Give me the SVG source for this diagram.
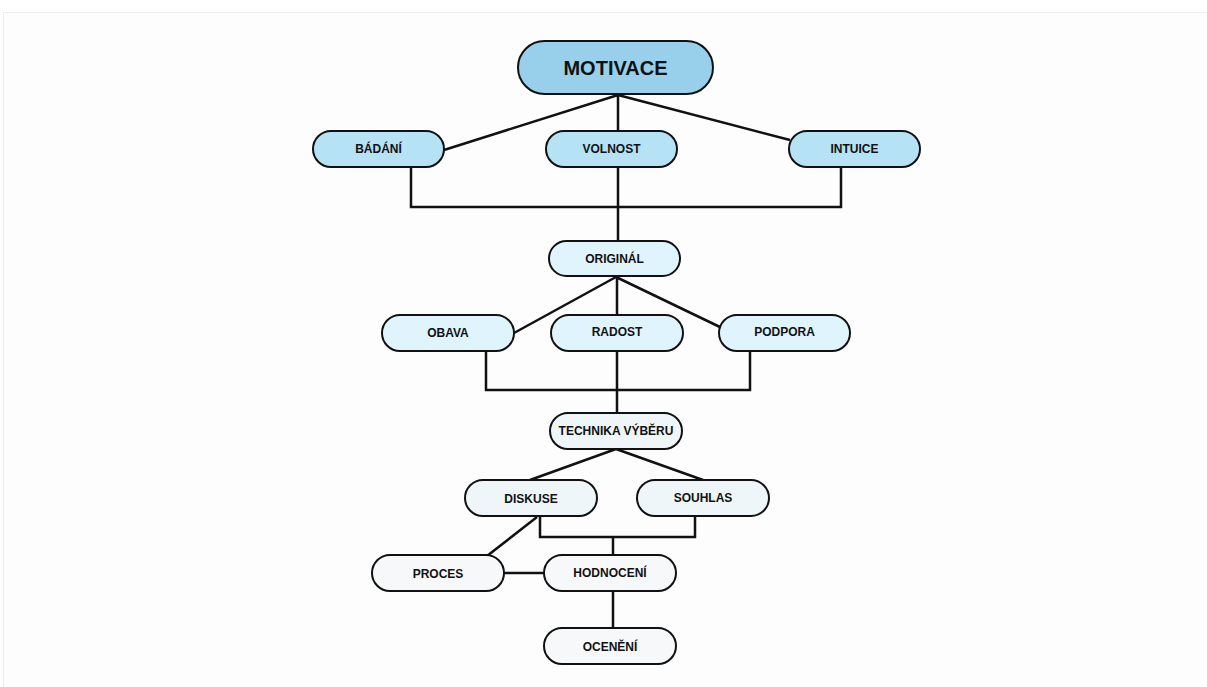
<svg xmlns="http://www.w3.org/2000/svg" width="1207" height="687" viewBox="0 0 1207 687">
<style>
.n rect{stroke:#111;stroke-width:2}
.n text{font-family:"Liberation Sans",Arial,sans-serif;font-weight:bold;font-size:12px;fill:#111;text-anchor:middle;dominant-baseline:central}
.l1 rect{fill:#b5e2f5}
.l2 rect{fill:#e0f4fd}
.l3 rect{fill:#eef6fa}
.l4 rect{fill:#f7f8fa}
#conn path{fill:none;stroke:#111;stroke-width:2.5}
</style>
<rect width="1207" height="687" fill="#ffffff"/>
<rect x="3.5" y="12.5" width="1210" height="690" fill="#fdfdfd" stroke="#ececec" stroke-width="1"/>
<g id="conn">
<path d="M618 95 L444 150 M618 95 V131 M618 95 L790 140"/>
<path d="M411 167 V207 H841 V167 M618 167 V241"/>
<path d="M616 277 L514 333 M617 277 V315 M616 277 L722 328"/>
<path d="M486 351 V390 H750 V351 M617 351 V413"/>
<path d="M616 449 L530 480 M616 449 L703 480"/>
<path d="M540 516 V537 H695 V516 M613 537 V555"/>
<path d="M537 517 L487 556"/>
<path d="M504 573 H544"/>
<path d="M613 591 V628"/>
</g>
<g id="motivace" class="n"><rect x="518" y="41" width="195" height="53" rx="26.5" fill="#98d0ec"/><text x="615.5" y="68" style="font-size:20px">MOTIVACE</text></g>
<g id="badani" class="n l1"><rect x="313" y="131" width="131" height="36" rx="18"/><text x="378.5" y="149">BÁDÁNÍ</text></g>
<g id="volnost" class="n l1"><rect x="546" y="131" width="131" height="36" rx="18"/><text x="611.5" y="149">VOLNOST</text></g>
<g id="intuice" class="n l1"><rect x="789" y="131" width="131" height="36" rx="18"/><text x="854.5" y="149">INTUICE</text></g>
<g id="original" class="n l2"><rect x="549" y="241" width="131" height="35" rx="17.5"/><text x="614.5" y="258.5">ORIGINÁL</text></g>
<g id="obava" class="n l2"><rect x="382" y="315" width="132" height="36" rx="18"/><text x="448" y="333">OBAVA</text></g>
<g id="radost" class="n l2"><rect x="551" y="315" width="132" height="36" rx="18"/><text x="617" y="332">RADOST</text></g>
<g id="podpora" class="n l2"><rect x="719" y="315" width="131" height="36" rx="18"/><text x="784.5" y="332">PODPORA</text></g>
<g id="technika" class="n l3"><rect x="550" y="413" width="132" height="36" rx="18"/><text x="616" y="431">TECHNIKA VÝBĚRU</text></g>
<g id="diskuse" class="n l3"><rect x="465" y="480" width="132" height="36" rx="18"/><text x="531" y="499">DISKUSE</text></g>
<g id="souhlas" class="n l3"><rect x="637" y="480" width="132" height="36" rx="18"/><text x="703" y="498">SOUHLAS</text></g>
<g id="proces" class="n l4"><rect x="372" y="555" width="132" height="36" rx="18"/><text x="438" y="574">PROCES</text></g>
<g id="hodnoceni" class="n l4"><rect x="544" y="555" width="132" height="36" rx="18"/><text x="610" y="573">HODNOCENÍ</text></g>
<g id="oceneni" class="n l4"><rect x="544" y="628" width="132" height="36" rx="18"/><text x="610" y="647">OCENĚNÍ</text></g>
</svg>
